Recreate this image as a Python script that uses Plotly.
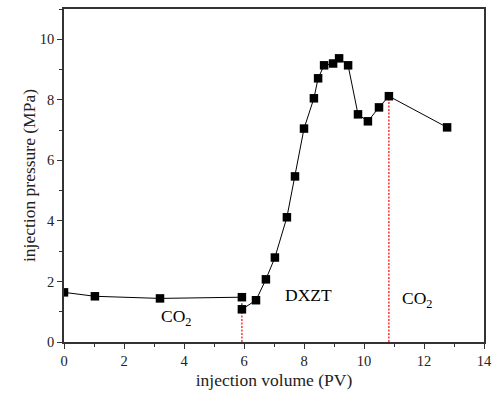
import plotly.graph_objects as go

volume = [0, 1.03, 3.2, 5.93, 5.93, 6.4, 6.73, 7.03, 7.43, 7.7, 8.0, 8.33, 8.47, 8.67,
          8.97, 9.17, 9.47, 9.8, 10.13, 10.5, 10.83, 12.77]
pressure = [1.64, 1.51, 1.44, 1.48, 1.08, 1.38, 2.07, 2.79, 4.12, 5.47, 7.05, 8.05, 8.71, 9.14,
            9.2, 9.37, 9.14, 7.52, 7.29, 7.75, 8.12, 7.09]
switch_idx = [4, 20]  # points where injected fluid changes
labels = ["CO<sub>2</sub>", "DXZT", "CO<sub>2</sub>"]
label_x = [3.73, 8.16, 11.78]
label_y = [0.82, 1.54, 1.40]

FONT = "Liberation Serif"
fig = go.Figure()

# red dotted drop lines at phase switches
for i in switch_idx:
    fig.add_trace(go.Scatter(x=[volume[i], volume[i]], y=[0, pressure[i]], mode="lines",
                             line=dict(color="#ff0000", width=1.2, dash="2px,1.5px"),
                             hoverinfo="skip"))

# solid segment before the switch
fig.add_trace(go.Scatter(x=volume[:4], y=pressure[:4], mode="lines",
                         line=dict(color="black", width=1)))
# dotted connector
fig.add_trace(go.Scatter(x=volume[3:5], y=pressure[3:5], mode="lines",
                         line=dict(color="black", width=1, dash="dot")))
# solid segment after
fig.add_trace(go.Scatter(x=volume[4:], y=pressure[4:], mode="lines",
                         line=dict(color="black", width=1)))
# markers
fig.add_trace(go.Scatter(x=volume, y=pressure, mode="markers",
                         marker=dict(symbol="square", size=8.5, color="black",
                                     line=dict(width=0))))

for t, xx, yy in zip(labels, label_x, label_y):
    fig.add_annotation(x=xx, y=yy, text=t, showarrow=False,
                       font=dict(family=FONT, size=17.5, color="black"))

axis_common = dict(showline=True, linecolor="#333", linewidth=1.5, mirror=True,
                   ticks="outside", ticklen=5, tickwidth=1, tickcolor="#333",
                   showgrid=False, zeroline=False, automargin=False,
                   tickfont=dict(family=FONT, size=14.5, color="#222"),
                   minor=dict(ticks="outside", ticklen=3, tickwidth=1, tickcolor="#333", dtick=1))

fig.update_xaxes(range=[0, 14], dtick=2, tick0=0,
                 title=dict(text="injection volume (PV)", font=dict(family=FONT, size=17.5, color="#222"),
                            standoff=6), **axis_common)
fig.update_yaxes(range=[0, 11], dtick=2, tick0=0,
                 title=dict(text="injection pressure (MPa)", font=dict(family=FONT, size=17.5, color="#222"),
                            standoff=0), **axis_common)

fig.update_layout(width=493, height=394, margin=dict(l=64, r=9, t=9, b=52),
                  font=dict(family=FONT),
                  plot_bgcolor="white", paper_bgcolor="white", showlegend=False)

fig.write_html("out.html")
